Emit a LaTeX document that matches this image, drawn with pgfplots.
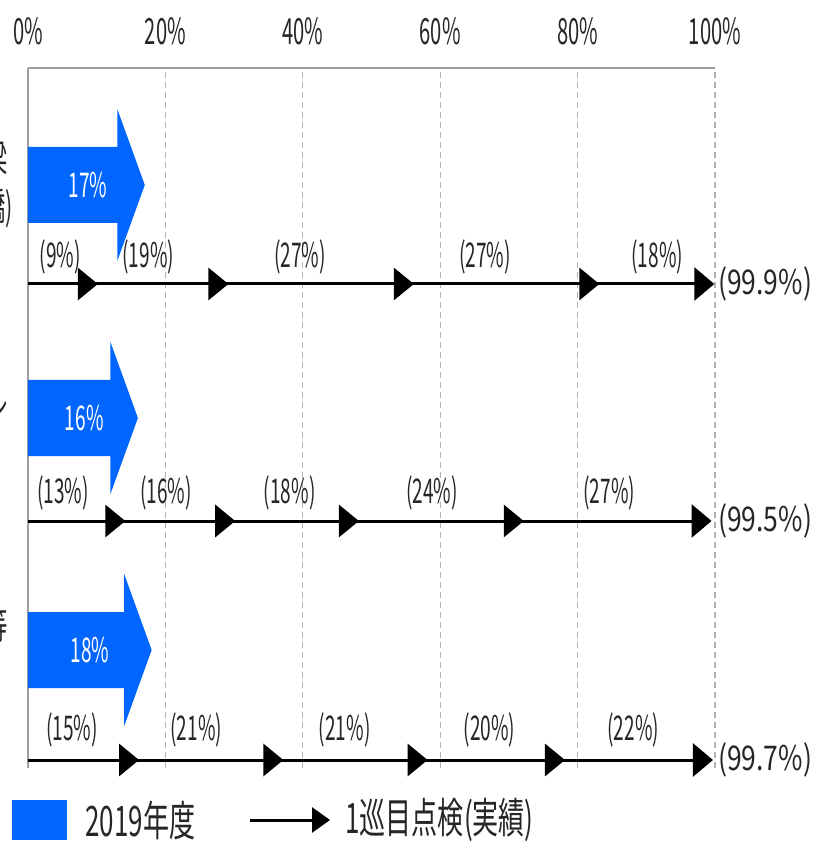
\documentclass[border=0pt]{standalone}
\usepackage{fontspec}
\setmainfont{Noto Sans CJK JP}[FakeStretch=0.56]
\newfontfamily\widefont{Noto Sans CJK JP}[FakeStretch=0.78]
\newfontfamily\legfont{Noto Sans CJK JP}[FakeStretch=0.62]
\usepackage{pgfplots}
\pgfplotsset{compat=1.18}
\usetikzlibrary{arrows.meta}
\definecolor{barblue}{RGB}{0,102,255}
\pgfdeclareplotmark{rtri}{%
  \pgfpathmoveto{\pgfqpoint{4pt}{0pt}}%
  \pgfpathlineto{\pgfqpoint{-6pt}{8.2pt}}%
  \pgfpathlineto{\pgfqpoint{-6pt}{-8.2pt}}%
  \pgfpathclose\pgfusepathqfill}
\begin{document}
\begin{tikzpicture}[
  lab/.style={font=\fontsize{17}{19}\selectfont, text=black!85, inner sep=0pt},
  inl/.style={font=\fontsize{17}{19}\selectfont, text=white, inner sep=0pt},
  endl/.style={font=\widefont\fontsize{17}{19}\selectfont, text=black!85, inner sep=0pt, anchor=west},
  cut/.style={font=\fontsize{19}{21}\selectfont, text=black!85, inner sep=0pt, anchor=east}]
\begin{axis}[
  at={(0,0)}, anchor=south west,
  scale only axis, width=343.5pt, height=350pt,
  xmin=0, xmax=100, ymin=0, ymax=700,
  axis x line*=top, axis y line*=left,
  axis line style={draw=gray!75, line width=1pt, -},
  xtick={0,20,40,60,80,100},
  xticklabels={0\%,20\%,40\%,60\%,80\%,100\%},
  xticklabel style={font=\fontsize{18}{20}\selectfont, text=black!85},
  xticklabel shift=8pt,
  major tick length=0pt,
  ytick=\empty,
  xmajorgrids,
  grid style={dash pattern=on 3pt off 2pt, gray!60, line width=0.6pt},
  clip=false,
]
% 2019 arrows
\addplot[fill=barblue, draw=none] coordinates {(0,621) (13,621) (13,659) (17,583) (13,507) (13,545) (0,545)} -- cycle;
\addplot[fill=barblue, draw=none] coordinates {(0,388) (12,388) (12,426) (16,350) (12,274) (12,312) (0,312)} -- cycle;
\addplot[fill=barblue, draw=none] coordinates {(0,156) (14,156) (14,194) (18,118) (14,42) (14,80) (0,80)} -- cycle;
\node[inl] at (axis cs:8.7,583) {17\%};
\node[inl] at (axis cs:8.2,350) {16\%};
\node[inl] at (axis cs:9,118) {18\%};
% inspection lines
\addplot[black, line width=1.5pt, -{Triangle[length=10pt,width=16.5pt]}] coordinates {(0,484) (99.9,484)};
\addplot[only marks, mark=rtri, black] coordinates {(9,484) (28,484) (55,484) (82,484)};
\addplot[black, line width=1.5pt, -{Triangle[length=10pt,width=16.5pt]}] coordinates {(0,247) (99.5,247)};
\addplot[only marks, mark=rtri, black] coordinates {(13,247) (29,247) (47,247) (71,247)};
\addplot[black, line width=1.5pt, -{Triangle[length=10pt,width=16.5pt]}] coordinates {(0,8) (99.7,8)};
\addplot[only marks, mark=rtri, black] coordinates {(15,8) (36,8) (57,8) (77,8)};
% segment labels
\node[lab] at (axis cs:4.7,511) {(9\%)};
\node[lab] at (axis cs:17.5,511) {(19\%)};
\node[lab] at (axis cs:39.6,511) {(27\%)};
\node[lab] at (axis cs:66.5,511) {(27\%)};
\node[lab] at (axis cs:91.6,511) {(18\%)};
\node[lab] at (axis cs:5.1,275) {(13\%)};
\node[lab] at (axis cs:20.1,275) {(16\%)};
\node[lab] at (axis cs:38.1,275) {(18\%)};
\node[lab] at (axis cs:58.8,275) {(24\%)};
\node[lab] at (axis cs:84.6,275) {(27\%)};
\node[lab] at (axis cs:6.4,38) {(15\%)};
\node[lab] at (axis cs:24.5,38) {(21\%)};
\node[lab] at (axis cs:46.1,38) {(21\%)};
\node[lab] at (axis cs:67.2,38) {(20\%)};
\node[lab] at (axis cs:88.1,38) {(22\%)};
% totals
\node[endl] at (axis cs:100.4,484) {(99.9\%)};
\node[endl] at (axis cs:100.4,247) {(99.5\%)};
\node[endl] at (axis cs:100.4,8) {(99.7\%)};
\end{axis}
% category labels, cut off at the left edge as in the reference
\node[cut] at (-10pt,305pt) {橋梁};
\node[cut] at (-7.5pt,280pt) {(道路橋)};
\node[cut] at (-10pt,184pt) {トンネル};
\node[cut] at (-10pt,71.5pt) {道路附属物等};
% legend
\fill[barblue] (-8pt,-16pt) rectangle (19.5pt,-36pt);
\node[anchor=west, inner sep=0pt, font=\legfont\fontsize{21}{23}\selectfont, text=black!85] at (28.5pt,-26pt) {2019年度};
\draw[line width=1.5pt, -{Triangle[length=9pt,width=12.5pt]}] (111pt,-26pt) -- (151pt,-26pt);
\node[anchor=west, inner sep=0pt, font=\legfont\fontsize{21}{23}\selectfont, text=black!85] at (158.5pt,-26pt) {1巡目点検(実績)};
\pgfresetboundingbox
\path (-14pt,-37pt) rectangle (394.5pt,384pt);
\end{tikzpicture}
\end{document}
